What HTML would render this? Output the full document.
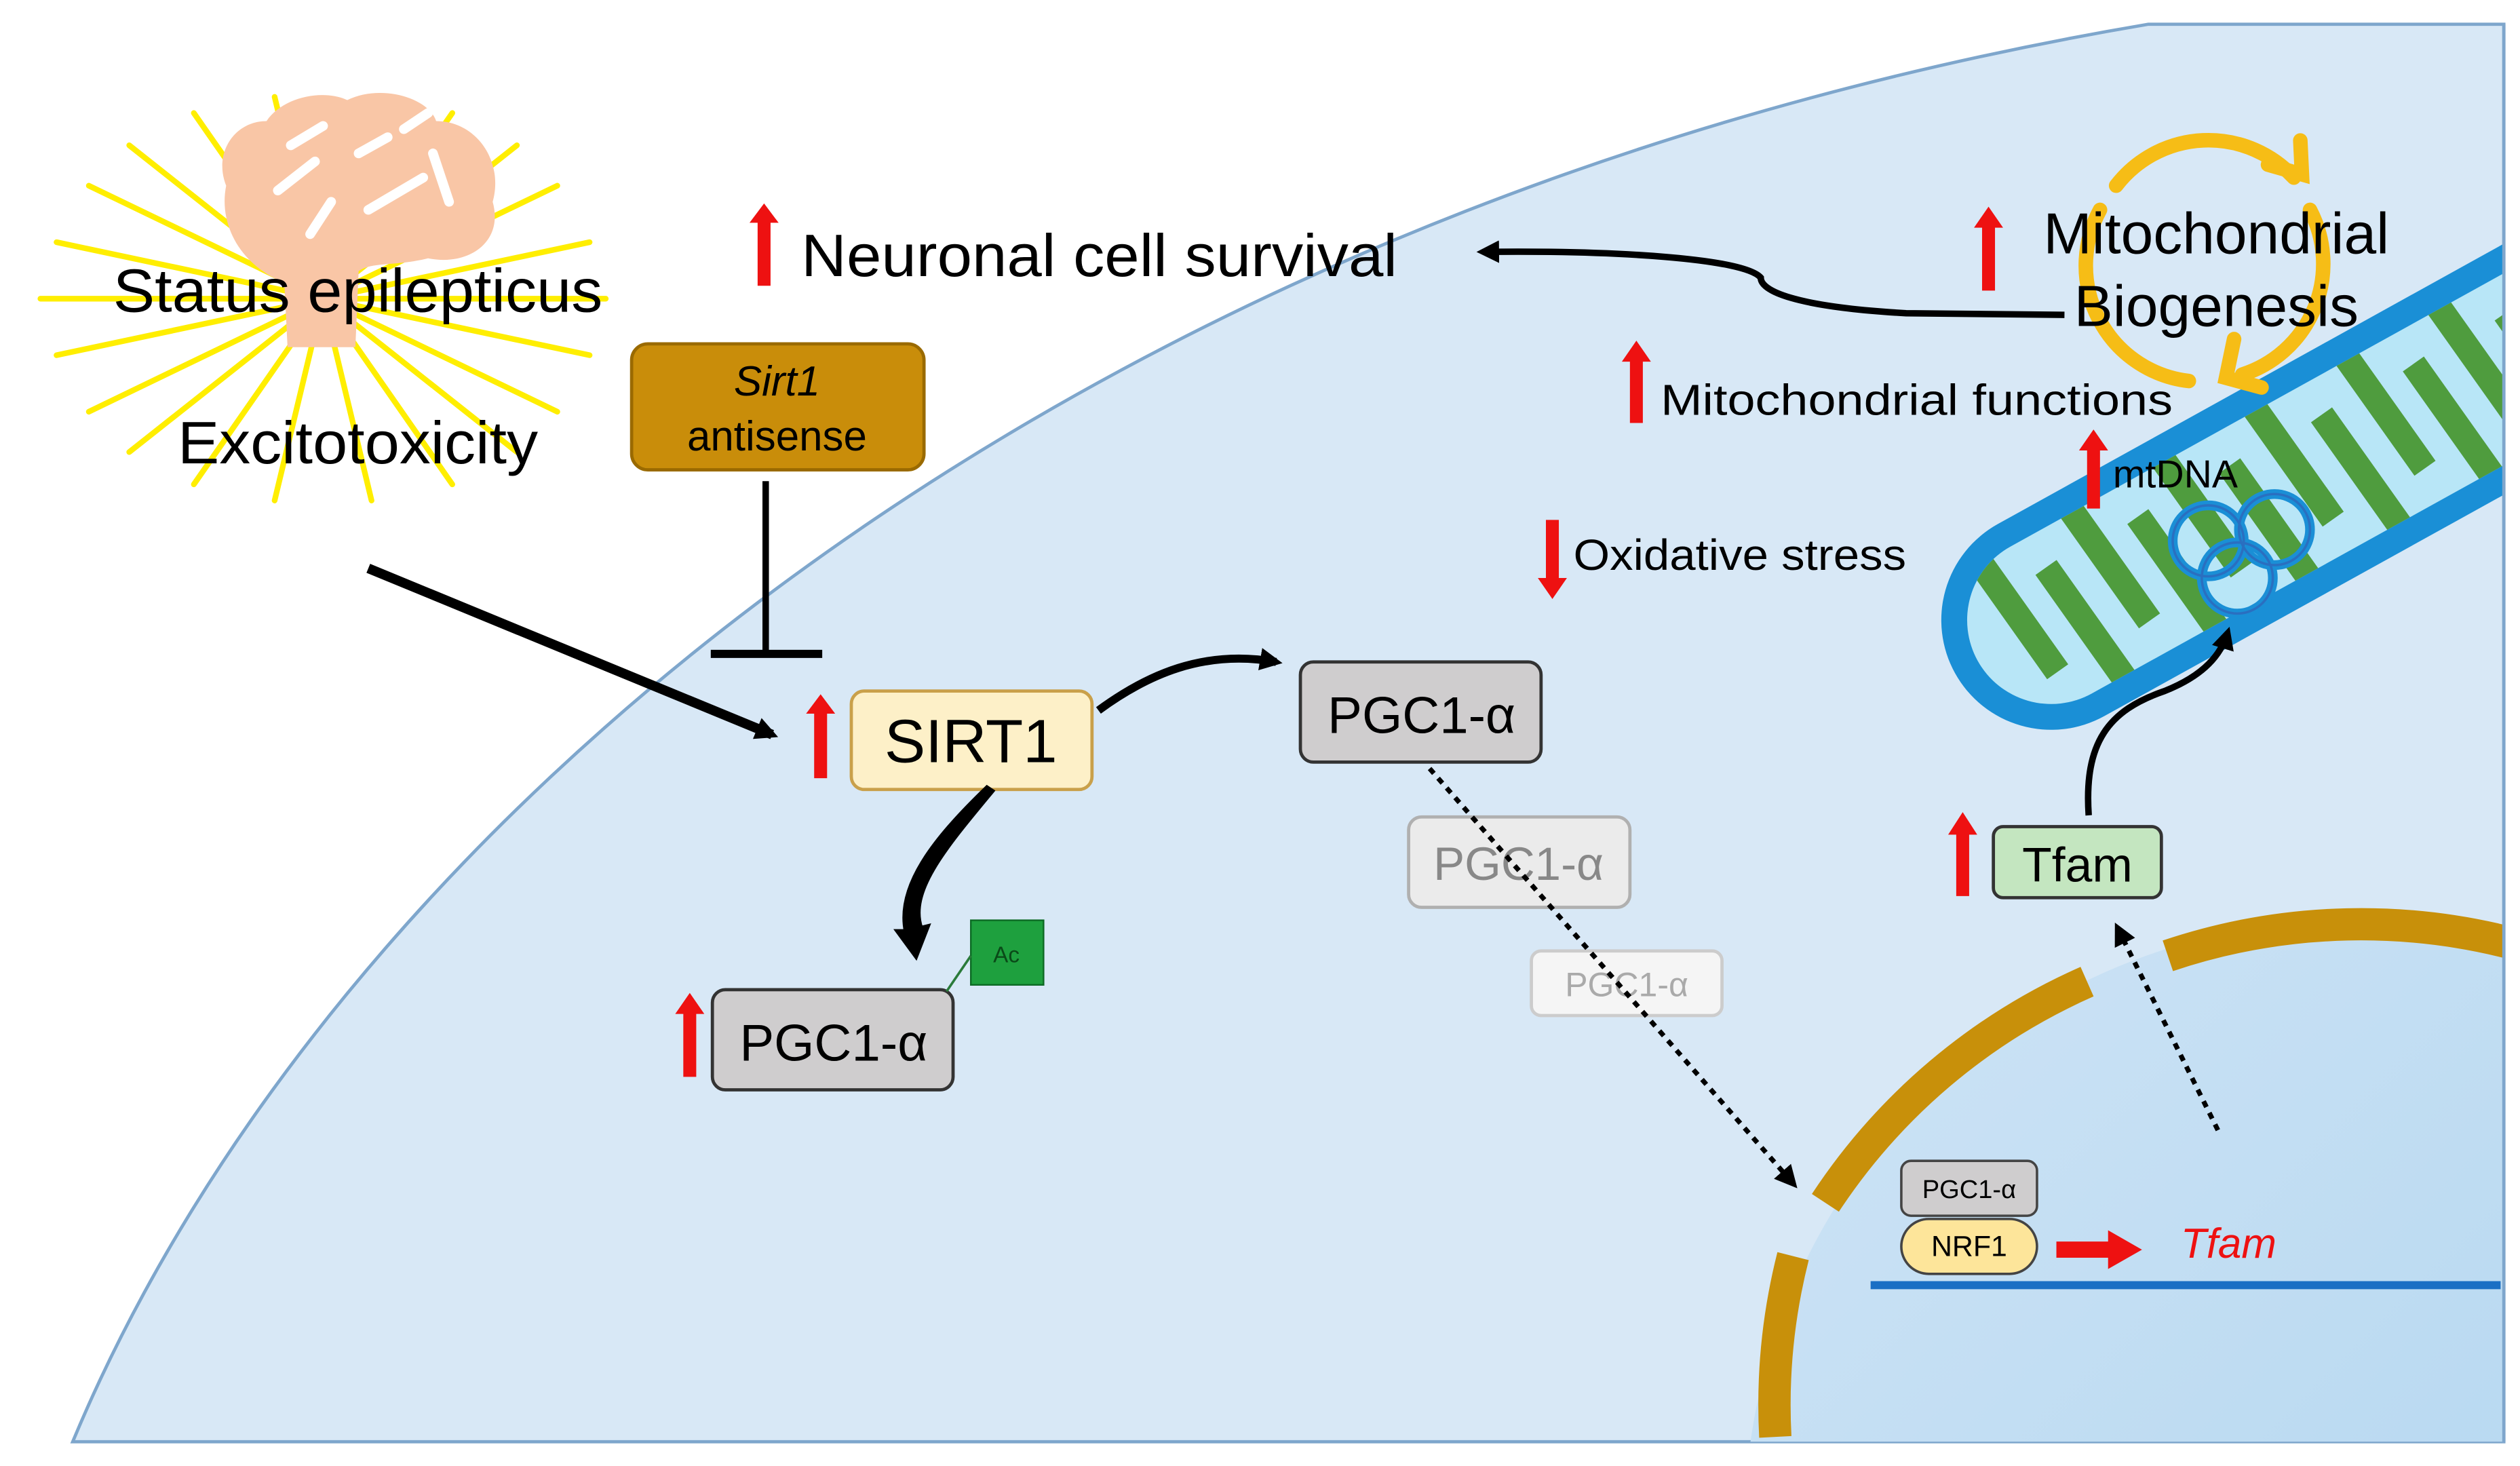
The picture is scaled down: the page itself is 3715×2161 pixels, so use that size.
<!DOCTYPE html>
<html><head><style>html,body{margin:0;padding:0;background:#fff;width:3715px;height:2161px;overflow:hidden}svg{display:block}</style></head>
<body>
<svg width="3715" height="2161" viewBox="0 0 1560 908" preserveAspectRatio="none" xmlns="http://www.w3.org/2000/svg" font-family="Liberation Sans, sans-serif">
<defs>
<clipPath id="cell"><path d="M45,893 C200,520 650,130 1330,15 L1550,15 L1550,893 Z"/></clipPath>
<linearGradient id="nuc" x1="0" y1="0" x2="1" y2="1"><stop offset="0" stop-color="#cfe4f5"/><stop offset="1" stop-color="#a6d0ee"/></linearGradient>
<clipPath id="inner"><rect x="-50" y="-52" width="560" height="104" rx="52"/></clipPath>
<marker id="ah2" markerWidth="14" markerHeight="14" refX="10" refY="7" orient="auto" markerUnits="userSpaceOnUse"><path d="M0,0 L14,7 L0,14 Z" fill="#000"/></marker>
</defs>
<path d="M45,893 C200,520 650,130 1330,15 L1550,15 L1550,893 Z" fill="#d8e8f6" stroke="#7ea6cc" stroke-width="2"/>
<g clip-path="url(#cell)">
<circle cx="1455" cy="945" r="375" fill="url(#nuc)"/>
<g fill="none" stroke="#c8900a" stroke-width="20">
<path d="M1099,890 A375,375 0 0 1 1110,778"/>
<path d="M1130,745 A375,375 0 0 1 1292,608"/>
<path d="M1342,592 A375,375 0 0 1 1565,587"/>
</g>
<g transform="translate(1268,385) rotate(-29)">
<rect x="-66" y="-68" width="600" height="136" rx="68" fill="#1a8fd6"/>
<rect x="-50" y="-52" width="560" height="104" rx="52" fill="#b8e6f7"/>
<g clip-path="url(#inner)" stroke="#4f9c3e" stroke-width="16">
<path d="M-20,-60 L-10,30 M15,-30 L25,60 M45,-60 L55,30 M80,-30 L90,60 M110,-60 L120,30 M145,-30 L155,60 M175,-60 L185,30 M210,-30 L220,60 M240,-60 L250,30 M275,-30 L285,60 M305,-60 L315,30 M340,-30 L350,60"/>
</g>
</g>
</g>
<line x1="1550" y1="15" x2="1550" y2="893" stroke="#7ea6cc" stroke-width="2"/>
<g fill="none" stroke="#1a8fd6" stroke-width="6">
<circle cx="1367" cy="335" r="22"/><circle cx="1408" cy="328" r="22"/><circle cx="1385" cy="358" r="22"/>
</g>
<g fill="none" stroke="#2a6fc0" stroke-width="1.5"><circle cx="1367" cy="335" r="22"/><circle cx="1408" cy="328" r="22"/><circle cx="1385" cy="358" r="22"/></g>
<!-- sun + brain -->
<g stroke="#ffee00" stroke-width="3.5" stroke-linecap="round">
<path d="M200,185 L25,185 M200,185 L375,185 M200,185 L35,150 M200,185 L365,220 M200,185 L35,220 M200,185 L365,150 M200,185 L55,115 M200,185 L345,255 M200,185 L55,255 M200,185 L345,115 M200,185 L80,90 M200,185 L320,280 M200,185 L80,280 M200,185 L320,90 M200,185 L120,70 M200,185 L280,300 M200,185 L120,300 M200,185 L280,70 M200,185 L170,60 M200,185 L230,310 M200,185 L170,310 M200,185 L230,60"/>
</g>
<path d="M178,215 L176,175 C150,165 135,140 140,115 C132,95 145,75 165,75 C175,60 200,55 215,62 C235,52 265,60 270,75 C295,75 312,100 305,125 C312,150 290,165 265,160 C245,165 230,162 222,168 L220,215 Z" fill="#f9c6a6"/>
<g stroke="#fff" stroke-width="6" fill="none" stroke-linecap="round"><path d="M180,90 L200,78 M172,118 L195,100 M222,95 L240,85 M228,130 L262,110 M268,95 L278,125 M192,145 L205,125 M250,80 L265,70"/></g>
<text x="70" y="193" font-size="38" textLength="303" lengthAdjust="spacingAndGlyphs">Status epilepticus</text>
<text x="110" y="287" font-size="37" textLength="223" lengthAdjust="spacingAndGlyphs">Excitotoxicity</text>
<!-- Sirt1 antisense -->
<rect x="391" y="213" width="181" height="78" rx="10" fill="#c98d0a" stroke="#9a6a00" stroke-width="2"/>
<text x="481" y="245" font-size="26" font-style="italic" text-anchor="middle">Sirt1</text>
<text x="481" y="279" font-size="26" text-anchor="middle">antisense</text>
<line x1="474" y1="298" x2="474" y2="405" stroke="#000" stroke-width="4"/>
<line x1="440" y1="405" x2="509" y2="405" stroke="#000" stroke-width="5"/>
<line x1="228" y1="352" x2="478" y2="455" stroke="#000" stroke-width="6" marker-end="url(#ah2)"/>
<!-- red arrows -->
<g fill="#ee1111">
<path d="M504,482 L504,442 L499,442 L508,430 L517,442 L512,442 L512,482 Z"/>
<path d="M469,177 L469,138 L464,138 L473,126 L482,138 L477,138 L477,177 Z"/>
<path d="M423,667 L423,628 L418,628 L427,615 L436,628 L431,628 L431,667 Z"/>
<path d="M1227,180 L1227,141 L1222,141 L1231,128 L1240,141 L1235,141 L1235,180 Z"/>
<path d="M1009,262 L1009,224 L1004,224 L1013,211 L1022,224 L1017,224 L1017,262 Z"/>
<path d="M1292,315 L1292,279 L1287,279 L1296,266 L1305,279 L1300,279 L1300,315 Z"/>
<path d="M957,322 L957,358 L952,358 L961,371 L970,358 L965,358 L965,322 Z"/>
<path d="M1211,555 L1211,517 L1206,517 L1215,503 L1224,517 L1219,517 L1219,555 Z"/>
<path d="M1273,769 L1305,769 L1305,762 L1326,774 L1305,786 L1305,779 L1273,779 Z"/>
</g>
<text x="496" y="171" font-size="37" textLength="369" lengthAdjust="spacingAndGlyphs">Neuronal cell survival</text>
<!-- SIRT1 -->
<rect x="527" y="428" width="149" height="61" rx="8" fill="#fdf0c8" stroke="#c9a04a" stroke-width="2"/>
<text x="601" y="472" font-size="38" text-anchor="middle">SIRT1</text>
<!-- PGC boxes -->
<rect x="805" y="410" width="149" height="62" rx="8" fill="#cfcdce" stroke="#333" stroke-width="2"/>
<text x="880" y="454" font-size="32" text-anchor="middle">PGC1-α</text>
<rect x="872" y="506" width="137" height="56" rx="8" fill="#ebebeb" stroke="#b0b0b0" stroke-width="2"/>
<text x="940" y="545" font-size="29" fill="#888" text-anchor="middle">PGC1-α</text>
<rect x="948" y="589" width="118" height="40" rx="6" fill="#f5f5f5" stroke="#cccccc" stroke-width="2"/>
<text x="1007" y="617" font-size="21" fill="#aaa" text-anchor="middle">PGC1-α</text>
<rect x="441" y="613" width="149" height="62" rx="8" fill="#cfcdce" stroke="#333" stroke-width="2"/>
<text x="516" y="657" font-size="32" text-anchor="middle">PGC1-α</text>
<rect x="601" y="570" width="45" height="40" fill="#1ea03e" stroke="#0c6a24" stroke-width="1"/>
<text x="623" y="596" font-size="14" fill="#0a4a18" text-anchor="middle">Ac</text>
<line x1="601" y1="592" x2="586" y2="614" stroke="#2a7a3a" stroke-width="1.5"/>
<!-- curved arrows -->
<path d="M614,490 C585,525 562,552 570,575 L574,574 L567,592 L556,577 L561,577 C555,548 580,518 611,488 Z" fill="#000" stroke="#000" stroke-width="3"/>
<path d="M680,440 C710,418 745,402 790,410" fill="none" stroke="#000" stroke-width="5" marker-end="url(#ah2)"/>
<line x1="885" y1="476" x2="1110" y2="733" stroke="#000" stroke-width="3" stroke-dasharray="4,4" marker-end="url(#ah2)"/>
<line x1="1373" y1="700" x2="1311" y2="575" stroke="#000" stroke-width="3" stroke-dasharray="4,4" marker-end="url(#ah2)"/>
<path d="M1278,195 L1180,194 C1110,190 1090,180 1090,172 C1080,160 1000,155 918,156" fill="none" stroke="#000" stroke-width="4" marker-end="url(#ah2)"/>
<path d="M1293,505 C1290,460 1305,440 1340,428 C1365,418 1375,405 1379,392" fill="none" stroke="#000" stroke-width="4" marker-end="url(#ah2)"/>
<!-- cycle -->
<g fill="none" stroke="#f6bd16" stroke-width="9" stroke-linecap="round">
<path d="M1310,115 A72,72 0 0 1 1420,110"/>
<path d="M1404,102 L1425,108 L1424,87"/>
<path d="M1430,130 A72,72 0 0 1 1388,232"/>
<path d="M1300,130 A72,72 0 0 0 1355,236"/>
<path d="M1383,210 L1378,234 L1400,240"/>
</g>
<text x="1372" y="157" font-size="36" text-anchor="middle">Mitochondrial</text>
<text x="1372" y="202" font-size="36" text-anchor="middle">Biogenesis</text>
<text x="1028" y="257" font-size="27" textLength="317" lengthAdjust="spacingAndGlyphs">Mitochondrial functions</text>
<text x="1308" y="302" font-size="24">mtDNA</text>
<text x="974" y="353" font-size="27" textLength="206" lengthAdjust="spacingAndGlyphs">Oxidative stress</text>
<!-- Tfam -->
<rect x="1234" y="512" width="104" height="44" rx="6" fill="#c4e6c0" stroke="#333" stroke-width="2"/>
<text x="1286" y="546" font-size="30" text-anchor="middle">Tfam</text>
<!-- nucleus items -->
<rect x="1177" y="719" width="84" height="34" rx="6" fill="#cfcdce" stroke="#444" stroke-width="1.5"/>
<text x="1219" y="742" font-size="16" text-anchor="middle">PGC1-α</text>
<rect x="1177" y="755" width="84" height="34" rx="17" fill="#fde59a" stroke="#444" stroke-width="1.5"/>
<text x="1219" y="778" font-size="18" text-anchor="middle">NRF1</text>
<text x="1350" y="779" font-size="26" font-style="italic" fill="#ee1111">Tfam</text>
<line x1="1158" y1="796" x2="1548" y2="796" stroke="#1a6fc4" stroke-width="5"/>
</svg>
</body></html>
